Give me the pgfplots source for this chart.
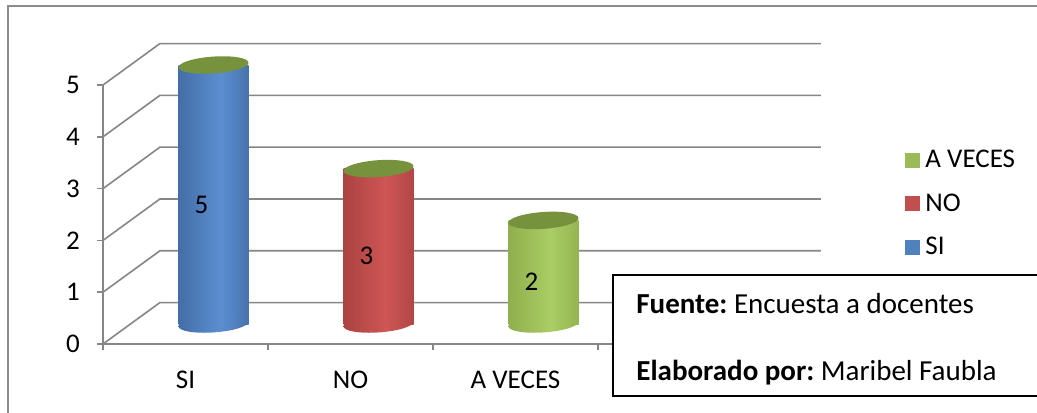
\documentclass[border=0pt]{standalone}
\usepackage{fontspec}
\setmainfont{Carlito}
\usepackage{pgfplots}
\pgfplotsset{compat=1.18}
\usepackage{pgfplotstable}
\frenchspacing

\definecolor{gridc}{HTML}{868686}
\definecolor{borderc}{HTML}{8C8C8C}
\definecolor{blueD}{HTML}{2F5384}
\definecolor{blueL}{HTML}{5B8ED0}
\definecolor{redD}{HTML}{8C3432}
\definecolor{redL}{HTML}{CE5654}
\definecolor{greenD}{HTML}{7A953B}
\definecolor{greenL}{HTML}{AACD64}
\definecolor{topc}{HTML}{76923C}
\definecolor{legB}{HTML}{4F81BD}
\definecolor{legR}{HTML}{C0504D}
\definecolor{legG}{HTML}{9BBB59}

\pgfdeclarehorizontalshading{blueshade}{100bp}{color(0bp)=(blueD); color(55bp)=(blueL); color(100bp)=(blueD)}
\pgfdeclarehorizontalshading{redshade}{100bp}{color(0bp)=(redD); color(55bp)=(redL); color(100bp)=(redD)}
\pgfdeclarehorizontalshading{greenshade}{100bp}{color(0bp)=(greenD); color(55bp)=(greenL); color(100bp)=(greenD)}

\pgfdeclareplotmark{cyltop}{%
  \pgfpathellipse{\pgfpointorigin}{\pgfqpoint{\pgfplotmarksize}{0.07\pgfplotmarksize}}{\pgfqpoint{-0.016\pgfplotmarksize}{0.24\pgfplotmarksize}}%
  \pgfusepathqfill}
\pgfdeclareplotmark{cylbotB}{%
  \pgfpathellipse{\pgfpointorigin}{\pgfqpoint{\pgfplotmarksize}{0.07\pgfplotmarksize}}{\pgfqpoint{-0.016\pgfplotmarksize}{0.24\pgfplotmarksize}}%
  \pgfshadepath{blueshade}{0}\pgfusepath{}}
\pgfdeclareplotmark{cylbotR}{%
  \pgfpathellipse{\pgfpointorigin}{\pgfqpoint{\pgfplotmarksize}{0.07\pgfplotmarksize}}{\pgfqpoint{-0.016\pgfplotmarksize}{0.24\pgfplotmarksize}}%
  \pgfshadepath{redshade}{0}\pgfusepath{}}
\pgfdeclareplotmark{cylbotG}{%
  \pgfpathellipse{\pgfpointorigin}{\pgfqpoint{\pgfplotmarksize}{0.07\pgfplotmarksize}}{\pgfqpoint{-0.016\pgfplotmarksize}{0.24\pgfplotmarksize}}%
  \pgfshadepath{greenshade}{0}\pgfusepath{}}

\pgfplotstableread{
x v
0 5
1 3
2 2
}\datatable

\begin{document}
\begin{tikzpicture}
\useasboundingbox (-51.5pt,-34pt) rectangle (467pt,172pt);
\fill[white] (-51.5pt,-34pt) rectangle (467pt,172pt);
% outer frame
\draw[borderc, line width=0.8pt] (-47.5pt,-40pt) -- (-47.5pt,169pt) -- (475pt,169pt);
\begin{axis}[
  scale only axis, width=330pt, height=129.5pt,
  xmin=-0.5, xmax=3.5, ymin=0, ymax=5,
  clip=false,
  axis lines*=left,
  axis line style={gridc, line width=0.8pt},
  tick style={gridc, line width=0.8pt},
  tick align=outside, major tick length=3pt,
  ytick={0,1,2,3,4,5},
  xtick={-0.5,0.5,1.5,2.5,3.5},
  xticklabels={,,,,},
  extra x ticks={0,1,2},
  extra x tick labels={SI,NO,A VECES},
  extra x tick style={major tick length=0pt},
  /pgf/number format/assume math mode=true,
  ticklabel style={font=\fontsize{13.5}{15}\selectfont, text=black},
  yticklabel style={xshift=-5pt},
  xticklabel style={yshift=-10pt},
  legend style={draw=none, fill=none, at={(rel axis cs:1.214,0.762)}, anchor=north west,
    font=\fontsize{13.5}{15}\selectfont, row sep=8.5pt, inner sep=0pt,
    nodes={inner sep=1.5pt},
    /tikz/every odd column/.append style={column sep=1.5pt}},
  legend cell align=left,
]
% 3D walls
\pgfplotsinvokeforeach{0,1,2,3,4,5}{
  \draw[gridc, line width=0.8pt] (axis cs:-0.5,#1) -- (axis cs:-0.155,{#1+0.8}) -- (axis cs:3.85,{#1+0.8});
}
% SI
\addplot[only marks, mark=cylbotB, mark size=17.5pt, xshift=14pt, yshift=10pt, forget plot] coordinates {(0,0)};
\addplot[ybar, bar width=35pt, bar shift=0pt, draw=none, shade, shading=blueshade, xshift=14pt, yshift=10pt, forget plot] coordinates {(0,5)};
\addplot[only marks, mark=cyltop, mark size=17.5pt, mark options={fill=topc, draw=none}, xshift=14pt, yshift=10pt, forget plot] coordinates {(0,5)};
% NO
\addplot[only marks, mark=cylbotR, mark size=17.5pt, xshift=14pt, yshift=10pt, forget plot] coordinates {(1,0)};
\addplot[ybar, bar width=35pt, bar shift=0pt, draw=none, shade, shading=redshade, xshift=14pt, yshift=10pt, forget plot] coordinates {(1,3)};
\addplot[only marks, mark=cyltop, mark size=17.5pt, mark options={fill=topc, draw=none}, xshift=14pt, yshift=10pt, forget plot] coordinates {(1,3)};
% A VECES
\addplot[only marks, mark=cylbotG, mark size=17.5pt, xshift=14pt, yshift=10pt, forget plot] coordinates {(2,0)};
\addplot[ybar, bar width=35pt, bar shift=0pt, draw=none, shade, shading=greenshade, xshift=14pt, yshift=10pt, forget plot] coordinates {(2,2)};
\addplot[only marks, mark=cyltop, mark size=17.5pt, mark options={fill=topc, draw=none}, xshift=14pt, yshift=10pt, forget plot] coordinates {(2,2)};
% value labels
\addplot[draw=none, mark=none, forget plot, point meta=explicit,
  nodes near coords={\pgfmathprintnumber{\pgfplotspointmeta}},
  every node near coord/.append style={anchor=center, xshift=8pt, yshift=5pt, font=\fontsize{13.5}{15}\selectfont, text=black}]
  table[x=x, y expr=\thisrow{v}/2, meta=v] {\datatable};
% legend
\addlegendimage{legend image code/.code={\fill[legG] (0pt,-3.5pt) rectangle (7pt,3.5pt);}}
\addlegendentry{A VECES}
\addlegendimage{legend image code/.code={\fill[legR] (0pt,-3.5pt) rectangle (7pt,3.5pt);}}
\addlegendentry{NO}
\addlegendimage{legend image code/.code={\fill[legB] (0pt,-3.5pt) rectangle (7pt,3.5pt);}}
\addlegendentry{SI}
\end{axis}
% source box
\fill[white] (255pt,34.5pt) rectangle (475pt,-26pt);
\draw[black, line width=1.1pt] (475pt,34.5pt) -- (255pt,34.5pt) -- (255pt,-26pt) -- (475pt,-26pt);
\node[anchor=base west, inner sep=0pt, font=\fontsize{14.5}{16}\selectfont] at (266.5pt,15.5pt) {\textbf{Fuente:} Encuesta a docentes};
\node[anchor=base west, inner sep=0pt, font=\fontsize{14.5}{16}\selectfont] at (266.5pt,-18pt) {\textbf{Elaborado por:} Maribel Faubla};
\end{tikzpicture}
\end{document}
